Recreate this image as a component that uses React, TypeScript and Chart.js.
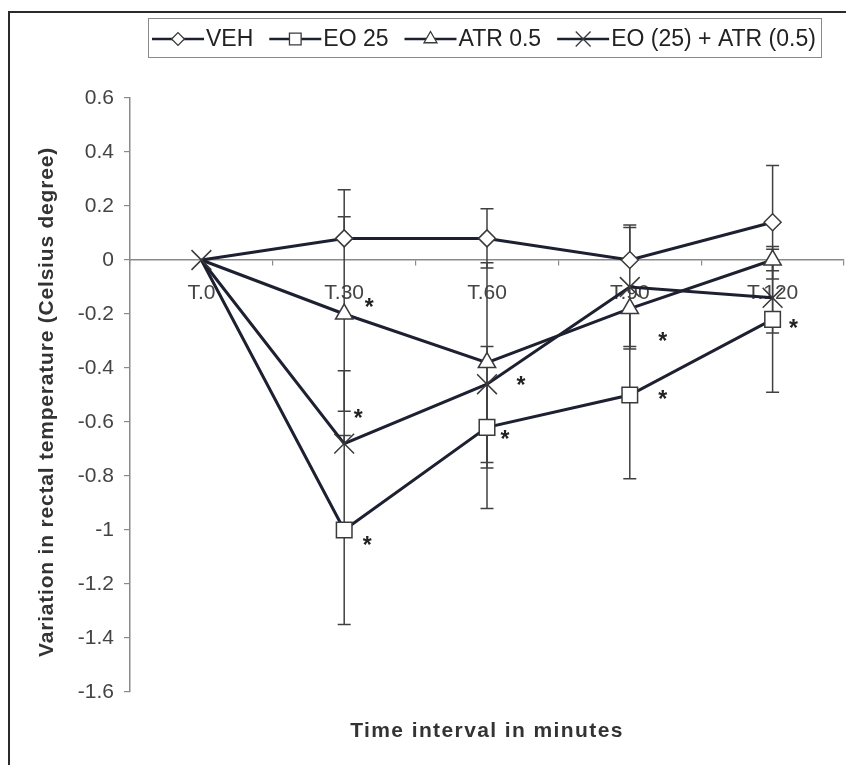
import React, { useEffect, useRef } from "react";
import { Chart, registerables } from "chart.js";
import { drawPoint } from "chart.js/helpers";

Chart.register(...registerables);

// ---------- data ----------
const categories = ["T.0", "T.30", "T.60", "T.90", "T.120"];
const seriesNames = ["VEH", "EO 25", "ATR 0.5", "EO (25) + ATR (0.5)"];

const vehValues = [0, 0.08, 0.08, 0.0, 0.14];
const eo25Values = [0, -1.0, -0.62, -0.5, -0.22];
const atrValues = [0, -0.2, -0.38, -0.18, 0.0];
const comboValues = [0, -0.68, -0.46, -0.1, -0.14];

const vehErrUp = [0, 0.18, 0.11, 0.13, 0.21];
const vehErrDown = [0, 0, 0.11, 0, 0.21];
const eo25ErrUp = [0, 0.35, 0.3, 0.31, 0.27];
const eo25ErrDown = [0, 0.35, 0.3, 0.31, 0.27];
const atrErrUp = [0, 0.36, 0.37, 0, 0.04];
const atrErrDown = [0, 0.36, 0.37, 0.15, 0.04];
const comboErrUp = [0, 0.27, 0, 0.22, 0.13];
const comboErrDown = [0, 0, 0.31, 0.22, 0.13];

const eo25Sig = ["", "*", "*", "*", "*"];
const atrSig = ["", "*", "", "*", ""];
const comboSig = ["", "*", "*", "", ""];

const yMin = -1.6;
const yMax = 0.6;
const yStep = 0.2;

const xTitle = "Time interval in minutes";
const yTitle = "Variation in rectal temperature (Celsius degree)";

// ---------- styling ----------
const FONT = "'Liberation Sans', Arial, sans-serif";
const LINE = "#1d2030";
const MARK = "#3a3a3a";
const AXIS = "#8a8a8a";

const markerStyles = [
  { style: "rectRot", radius: 8.5 },
  { style: "rect", radius: 11 },
  { style: "triangle", radius: 10 },
  { style: "crossRot", radius: 14 },
];

const seriesValues = [vehValues, eo25Values, atrValues, comboValues];
const seriesErrUp = [vehErrUp, eo25ErrUp, atrErrUp, comboErrUp];
const seriesErrDown = [vehErrDown, eo25ErrDown, atrErrDown, comboErrDown];
const seriesSig = [null, eo25Sig, atrSig, comboSig];

// per-point offsets of the significance asterisks (px), style only
const starOffsets: Record<number, number[][]> = {
  1: [[0, 0], [23, 9], [18, 6], [33, -2], [21, 3]],
  2: [[0, 0], [25, -13], [0, 0], [33, 27], [0, 0]],
  3: [[0, 0], [14, -31], [34, -5], [0, 0], [0, 0]],
};

const framePlugin = {
  id: "frame",
  beforeDraw(chart: any) {
    const { ctx, width, height } = chart;
    ctx.save();
    ctx.fillStyle = "#ffffff";
    ctx.fillRect(0, 0, width, height);
    ctx.strokeStyle = "#2a2a2a";
    ctx.lineWidth = 2;
    ctx.beginPath();
    ctx.moveTo(9, height);
    ctx.lineTo(9, 12);
    ctx.lineTo(width, 12);
    ctx.stroke();
    ctx.restore();
  },
};

const titlesPlugin = {
  id: "axisTitles",
  afterDraw(chart: any) {
    const { ctx, chartArea } = chart;
    ctx.save();
    ctx.fillStyle = "#333";
    ctx.textAlign = "center";
    ctx.textBaseline = "middle";
    try { (ctx as any).letterSpacing = "1.4px"; } catch (e) {}
    ctx.font = `bold 21px ${FONT}`;
    ctx.fillText(xTitle, (chartArea.left + chartArea.right) / 2, 731);
    ctx.translate(47, 402);
    ctx.rotate(-Math.PI / 2);
    try { (ctx as any).letterSpacing = "0.8px"; } catch (e) {}
    ctx.fillText(yTitle, 0, 0);
    ctx.restore();
  },
};

const errorBarPlugin = {
  id: "errorBars",
  beforeDatasetsDraw(chart: any) {
    const { ctx } = chart;
    const x = chart.scales.x;
    const y = chart.scales.y;
    ctx.save();
    ctx.strokeStyle = "#404040";
    ctx.lineWidth = 1.5;
    const cap = 6.5;
    seriesValues.forEach((vals, s) => {
      vals.forEach((v, i) => {
        const px = x.getPixelForValue(i);
        const up = seriesErrUp[s][i];
        const dn = seriesErrDown[s][i];
        const py = y.getPixelForValue(v);
        if (up > 0) {
          const pu = y.getPixelForValue(v + up);
          ctx.beginPath();
          ctx.moveTo(px, py);
          ctx.lineTo(px, pu);
          ctx.moveTo(px - cap, pu);
          ctx.lineTo(px + cap, pu);
          ctx.stroke();
        }
        if (dn > 0) {
          const pd = y.getPixelForValue(v - dn);
          ctx.beginPath();
          ctx.moveTo(px, py);
          ctx.lineTo(px, pd);
          ctx.moveTo(px - cap, pd);
          ctx.lineTo(px + cap, pd);
          ctx.stroke();
        }
      });
    });
    ctx.restore();
  },
};

const starPlugin = {
  id: "stars",
  afterDatasetsDraw(chart: any) {
    const { ctx } = chart;
    ctx.save();
    const size = 23;
    ctx.font = `bold ${size}px ${FONT}`;
    ctx.fillStyle = "#222";
    ctx.textAlign = "center";
    ctx.textBaseline = "alphabetic";
    seriesSig.forEach((sig, s) => {
      if (!sig) return;
      const meta = chart.getDatasetMeta(s);
      sig.forEach((t, i) => {
        if (!t) return;
        const el = meta.data[i];
        const off = starOffsets[s][i];
        ctx.fillText(t, el.x + off[0], el.y + off[1] + size * 0.6);
      });
    });
    ctx.restore();
  },
};

const legendPlugin = {
  id: "customLegend",
  afterDraw(chart: any) {
    const { ctx } = chart;
    ctx.save();
    ctx.strokeStyle = "#8a8a8a";
    ctx.lineWidth = 1;
    ctx.strokeRect(148.5, 18.5, 673, 39);
    const fs = 23;
    ctx.font = `${fs}px ${FONT}`;
    ctx.textBaseline = "middle";
    ctx.textAlign = "left";
    const cy = 39;
    let x = 152;
    const segW = 52;
    seriesNames.forEach((name, i) => {
      ctx.strokeStyle = LINE;
      ctx.lineWidth = 2.5;
      ctx.beginPath();
      ctx.moveTo(x, cy);
      ctx.lineTo(x + segW, cy);
      ctx.stroke();
      ctx.fillStyle = "#ffffff";
      ctx.strokeStyle = MARK;
      ctx.lineWidth = 1.3;
      drawPoint(ctx, { pointStyle: markerStyles[i].style, radius: markerStyles[i].radius * 0.75, rotation: 0, borderWidth: 1.3 }, x + segW / 2, cy);
      x += segW + 2;
      ctx.fillStyle = "#222";
      ctx.fillText(name, x, cy + 1);
      x += ctx.measureText(name).width + 16;
    });
    ctx.restore();
  },
};

export default function App() {
  const ref = useRef<HTMLCanvasElement | null>(null);

  useEffect(() => {
    if (!ref.current) return;
    const datasets = seriesValues.map((vals, i) => ({
      label: seriesNames[i],
      data: vals,
      borderColor: LINE,
      borderWidth: 3,
      backgroundColor: "#ffffff",
      pointStyle: markerStyles[i].style,
      pointRadius: (c: any) => (i < 3 && c.dataIndex === 0 ? 0 : markerStyles[i].radius),
      pointBackgroundColor: "#ffffff",
      pointBorderColor: MARK,
      pointBorderWidth: 1.5,
      tension: 0,
      fill: false,
      clip: false,
      order: 4 - i,
    }));

    const chart = new Chart(ref.current, {
      type: "line",
      data: { labels: categories, datasets },
      options: {
        animation: false,
        responsive: false,
        devicePixelRatio: 1,
        layout: { autoPadding: false, padding: { top: 98, right: 2, left: 0, bottom: 73 } },
        plugins: {
          legend: { display: false },
          tooltip: { enabled: false },
          title: { display: false },
        },
        scales: {
          x: {
            type: "category",
            position: { y: 0 } as any,
            offset: true,
            afterFit: (scale: any) => {
              scale.paddingLeft = 0;
              scale.paddingRight = 0;
            },
            grid: {
              display: true,
              drawOnChartArea: false,
              drawTicks: true,
              tickLength: 5,
              color: AXIS,
              lineWidth: 1.2,
              offset: true,
            },
            border: { display: true, color: AXIS, width: 1.5 },
            ticks: {
              autoSkip: false,
              maxRotation: 0,
              color: "#444",
              padding: 16,
              font: { family: FONT, size: 21 },
            },
          },
          y: {
            type: "linear",
            min: yMin,
            max: yMax,
            afterFit: (scale: any) => {
              scale.width = 130;
            },
            grid: {
              display: true,
              drawOnChartArea: false,
              drawTicks: true,
              tickLength: 6,
              color: AXIS,
              lineWidth: 1.2,
            },
            border: { display: true, color: AXIS, width: 1.5 },
            ticks: {
              stepSize: yStep,
              color: "#444",
              padding: 10,
              font: { family: FONT, size: 21 },
              callback: (v: any) => String(Math.round(Number(v) * 10) / 10),
            },
          },
        },
      },
      plugins: [framePlugin, errorBarPlugin, starPlugin, legendPlugin, titlesPlugin],
    });
    return () => chart.destroy();
  }, []);

  return (
    <div style={{ position: "absolute", left: 0, top: 0, width: 846, height: 765 }}>
      <canvas ref={ref} width={846} height={765} />
    </div>
  );
}
